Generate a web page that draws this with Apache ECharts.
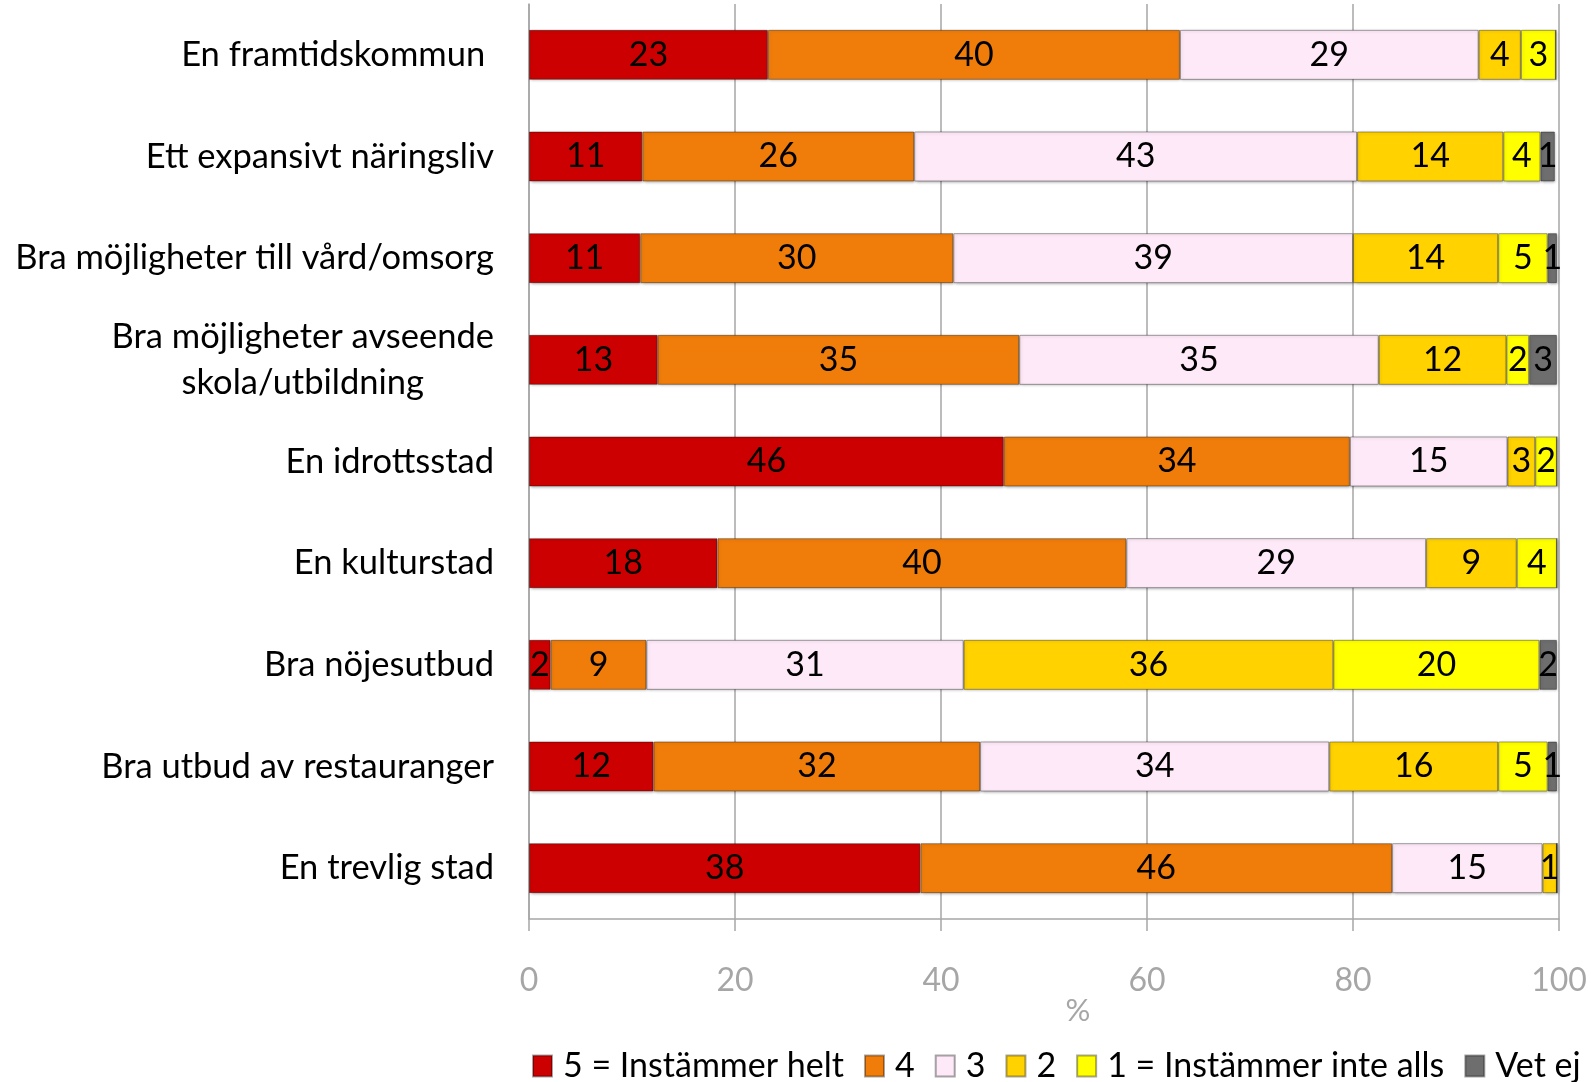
<!DOCTYPE html>
<html>
<head>
<meta charset="utf-8">
<script src="https://cdn.jsdelivr.net/npm/echarts@6/dist/echarts.min.js"></script>
<style>
	html, body { margin: 0; padding: 0; background: #fff; }
	#chart { width: 1591px; height: 1082px; }
</style>
</head>
<body>
<div id="chart"></div>
<script>
// kategorier (uppifrån och ned)
var categories = [
	'En framtidskommun ',
	'Ett expansivt näringsliv',
	'Bra möjligheter till vård/omsorg',
	'Bra möjligheter avseende\nskola/utbildning',
	'En idrottsstad',
	'En kulturstad',
	'Bra nöjesutbud',
	'Bra utbud av restauranger',
	'En trevlig stad'
];
var seriesNames = ['5 = Instämmer helt', '4', '3', '2', '1 = Instämmer inte alls', 'Vet ej'];
// andelar i procent
var helt = [23.2, 11.0, 10.8, 12.5, 46.1, 18.3, 2.1, 12.1, 38.0];
var fyra = [40.0, 26.4, 30.4, 35.1, 33.6, 39.7, 9.3, 31.7, 45.8];
var tre = [29.0, 43.0, 38.8, 34.9, 15.3, 29.1, 30.8, 33.9, 14.6];
var tva = [4.1, 14.2, 14.1, 12.4, 2.7, 8.8, 35.9, 16.4, 1.4];
var inteAlls = [3.4, 3.6, 4.8, 2.2, 2.1, 3.9, 20.0, 4.8, 0];
var vetEj = [0, 1.4, 0.9, 2.7, 0, 0, 1.7, 0.9, 0];
var xTicks = [0, 20, 40, 60, 80, 100];

var colors = ['#cc0000', '#f07d0a', '#fde9f7', '#ffd200', '#ffff00', '#6e6e6e'];
var seriesData = [helt, fyra, tre, tva, inteAlls, vetEj];
var font = 'Lato, "Open Sans", sans-serif';

var chart = echarts.init(document.getElementById('chart'));

var series = [];
for (var i = 0; i < seriesData.length; i++) {
	series.push({
		name : seriesNames[i],
		type : 'bar',
		stack : 'total',
		barWidth : 50,
		data : seriesData[i],
		itemStyle : {
			color : colors[i],
			borderColor : 'rgba(0,0,0,0.35)',
			borderWidth : 1,
			shadowBlur : 3,
			shadowColor : 'rgba(0,0,0,0.35)',
			shadowOffsetX : 1,
			shadowOffsetY : 1
		},
		label : {
			show : true,
			position : 'inside',
			color : '#000',
			fontFamily : font,
			fontSize : 34,
			formatter : function(p) {
				return p.value < 0.5 ? '' : String(Math.round(p.value));
			}
		}
	});
}

var option = {
	animation : false,
	color : colors,
	grid : {
		left : 529,
		right : 32,
		top : 4,
		bottom : 163
	},
	legend : {
		data : seriesNames,
		left : 527,
		top : 1044,
		itemWidth : 19,
		itemHeight : 21,
		itemGap : 20,
		icon : 'rect',
		textStyle : {
			color : '#000',
			fontFamily : font,
			fontSize : 34,
			padding : [0, 0, 0, 6]
		}
	},
	xAxis : {
		type : 'value',
		min : 0,
		max : 100,
		interval : 20,
		name : '%',
		nameLocation : 'middle',
		nameGap : 76,
		nameMoveOverlap : false,
		nameTextStyle : {
			color : '#a6a6a6',
			fontFamily : font,
			fontSize : 31,
			padding : [0, 0, 0, 68]
		},
		axisLine : { show : true, lineStyle : { color : '#a6a6a6', width : 1.5 } },
		axisTick : { show : true, length : 12, lineStyle : { color : '#a6a6a6', width : 1.5 } },
		splitLine : { show : true, lineStyle : { color : '#a6a6a6', width : 1.5 } },
		axisLabel : {
			color : '#a6a6a6',
			fontFamily : font,
			fontSize : 32,
			margin : 46,
			formatter : function(v) {
				return xTicks.indexOf(v) >= 0 ? String(v) : '';
			}
		}
	},
	yAxis : {
		type : 'category',
		inverse : true,
		data : categories,
		axisLine : { show : true, lineStyle : { color : '#a6a6a6', width : 1.5 } },
		axisTick : { show : false },
		axisLabel : {
			margin : 35,
			color : '#000',
			fontFamily : font,
			fontSize : 34.5,
			formatter : function(v) {
				return v.split('\n').map(function(s) {
					return '{c|' + s + '}';
				}).join('\n');
			},
			rich : {
				c : {
					align : 'center',
					color : '#000',
					fontFamily : font,
					fontSize : 34.5,
					lineHeight : 46
				}
			}
		}
	},
	series : series
};
chart.setOption(option);
</script>
</body>
</html>
